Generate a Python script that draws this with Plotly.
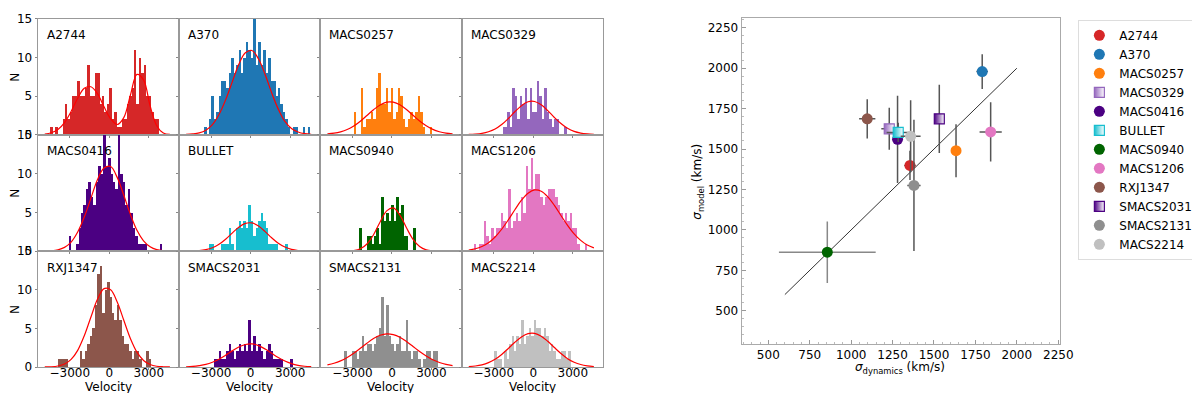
import plotly.graph_objects as go

clusters = ["A2744", "A370", "MACS0257", "MACS0329", "MACS0416", "BULLET",
            "MACS0940", "MACS1206", "RXJ1347", "SMACS2031", "SMACS2131", "MACS2214"]
colors = ["#d62728", "#1f77b4", "#ff7f0e", "#9467bd", "#4b0082", "#17becf",
          "#006400", "#e377c2", "#8c564b", "#4b0082", "#8f8f8f", "#c0c0c0"]
half_filled = ["MACS0329", "BULLET", "SMACS2031"]

# velocity histograms: first bin edge (km/s), common bin width, counts per bin
bin_start = [-4510, -3537, -2887, -2362, -3112, -3162,
             -2462, -4537, -3937, -2787, -3587, -2987]
bin_width = 187

counts_A2744 = [1, 0, 1, 0, 0, 2, 4, 2, 3, 5, 5, 7, 5, 5, 6, 9, 5, 5, 8, 8, 4, 5, 3, 4, 6,
                2, 3, 1, 1, 2, 2, 4, 5, 6, 11, 4, 10, 8, 9, 5, 5, 3, 2, 2]
counts_A370 = [1, 0, 2, 5, 2, 3, 5, 7, 7, 6, 8, 10, 8, 9, 11, 8, 10, 12, 11, 10, 15, 9,
               12, 9, 11, 8, 10, 7, 7, 5, 6, 4, 3, 2, 1, 0, 1, 1, 0, 0, 1, 0, 1]
counts_MACS0257 = [3, 0, 0, 6, 1, 2, 2, 3, 2, 6, 8, 4, 4, 6, 3, 6, 2, 3, 6, 5, 2, 1, 2, 3,
                   2, 3, 5, 3, 1, 0, 0, 1]
counts_MACS0329 = [1, 1, 3, 1, 6, 5, 2, 5, 4, 6, 2, 6, 3, 3, 7, 5, 2, 6, 3, 2, 1, 2, 2, 0, 0, 1]
counts_MACS0416 = [2, 0, 0, 1, 3, 5, 6, 8, 9, 7, 6, 9, 11, 10, 16, 11, 12, 10, 9, 8, 16, 10,
                   9, 6, 8, 5, 3, 2, 1, 1, 1, 1, 0, 0, 0, 0, 0, 1]
counts_BULLET = [1, 1, 0, 0, 0, 1, 1, 1, 3, 1, 0, 3, 4, 3, 4, 3, 6, 4, 2, 3, 4, 5, 4, 3, 1,
                 1, 1, 1, 0, 0, 0, 1]
counts_MACS0940 = [3, 0, 0, 2, 2, 1, 2, 3, 1, 7, 4, 5, 4, 6, 4, 7, 5, 6, 2, 2, 0, 0, 3]
counts_MACS1206 = [1, 0, 1, 1, 4, 2, 1, 3, 2, 3, 3, 5, 4, 3, 8, 3, 4, 5, 4, 7, 5, 11, 8, 12,
                   8, 10, 10, 7, 6, 7, 8, 8, 8, 7, 6, 5, 4, 5, 4, 5, 3, 3, 1, 0, 0, 1]
counts_RXJ1347 = [1, 1, 1, 1, 0, 0, 0, 0, 0, 2, 1, 2, 3, 4, 5, 8, 12, 13, 7, 10, 11, 9, 7, 6,
                  8, 6, 4, 3, 3, 2, 1, 2, 2, 1, 0, 0, 2, 1]
counts_SMACS2031 = [1, 1, 2, 1, 1, 2, 3, 2, 1, 2, 3, 2, 3, 2, 6, 2, 4, 2, 3, 2, 1, 2, 3, 2,
                    1, 1, 1, 1, 0, 0, 0, 1]
counts_SMACS2131 = [2, 0, 0, 2, 2, 1, 2, 4, 2, 3, 3, 2, 3, 4, 5, 9, 4, 8, 4, 3, 2, 3, 4, 2,
                    2, 6, 2, 1, 2, 2, 1, 0, 1, 2, 2, 1, 2, 2]
counts_MACS2214 = [2, 1, 1, 0, 2, 1, 3, 4, 2, 4, 3, 6, 3, 4, 5, 4, 6, 5, 5, 4, 5, 4, 2, 3, 2,
                   1, 1, 2, 2, 1, 2]

# red fitted curves, read at these velocities
curve_v = [-4900, -4400, -3900, -3400, -2900, -2400, -1900, -1400, -900, -400,
           100, 600, 1100, 1600, 2100, 2600, 3100, 3600, 4100, 4600]
fit_A2744 = [0.06, 0.23, 0.66, 1.56, 3.0, 4.7, 6.0, 6.2, 5.3, 3.6,
             2.05, 1.31, 2.2, 5.1, 7.8, 7.1, 3.7, 1.15, 0.2, 0.02]
fit_A370 = [0.02, 0.08, 0.22, 0.57, 1.3, 2.6, 4.5, 6.8, 9.1, 10.6,
            10.9, 9.8, 7.8, 5.4, 3.3, 1.7, 0.8, 0.34, 0.12, 0.04]
fit_MACS0257 = [0.08, 0.18, 0.36, 0.66, 1.12, 1.74, 2.48, 3.22, 3.84, 4.2,
                4.2, 3.86, 3.25, 2.5, 1.76, 1.14, 0.67, 0.37, 0.18, 0.08]
fit_MACS0329 = [0.02, 0.06, 0.16, 0.37, 0.72, 1.3, 2.08, 2.96, 3.75, 4.25,
                4.29, 3.86, 3.1, 2.22, 1.43, 0.81, 0.41, 0.19, 0.08, 0.03]
fit_MACS0416 = [0.015, 0.056, 0.18, 0.5, 1.18, 2.47, 4.4, 6.8, 9.2, 10.7,
                10.9, 9.5, 7.2, 4.75, 2.7, 1.35, 0.58, 0.21, 0.07, 0.02]
fit_BULLET = [0.008, 0.03, 0.08, 0.21, 0.46, 0.9, 1.55, 2.34, 3.09, 3.58,
              3.64, 3.24, 2.53, 1.73, 1.04, 0.55, 0.25, 0.1, 0.04, 0.01]
fit_MACS0940 = [0.0, 0.0, 0.003, 0.018, 0.086, 0.32, 0.94, 2.13, 3.77, 5.19,
                5.57, 4.65, 3.02, 1.53, 0.6, 0.18, 0.044, 0.008, 0.001, 0.0]
fit_MACS1206 = [0.15, 0.32, 0.62, 1.1, 1.84, 2.83, 4.03, 5.34, 6.56, 7.47,
                7.89, 7.72, 7.0, 5.9, 4.6, 3.34, 2.24, 1.4, 0.8, 0.43]
fit_RXJ1347 = [0.01, 0.035, 0.13, 0.38, 0.98, 2.16, 4.05, 6.45, 8.77, 10.16,
               10.0, 8.43, 6.06, 3.7, 1.92, 0.85, 0.32, 0.1, 0.03, 0.01]
fit_SMACS2031 = [0.03, 0.07, 0.17, 0.33, 0.61, 1.0, 1.53, 2.09, 2.6, 2.92,
                 2.99, 2.77, 2.33, 1.77, 1.22, 0.77, 0.44, 0.22, 0.1, 0.04]
fit_SMACS2131 = [0.27, 0.48, 0.79, 1.23, 1.78, 2.42, 3.08, 3.68, 4.11, 4.3,
                 4.2, 3.86, 3.31, 2.66, 2.0, 1.42, 0.93, 0.58, 0.33, 0.18]
fit_MACS2214 = [0.06, 0.13, 0.28, 0.56, 1.0, 1.63, 2.4, 3.2, 3.9, 4.33,
                4.36, 4.0, 3.33, 2.52, 1.74, 1.08, 0.62, 0.32, 0.15, 0.06]

# right panel: velocity dispersions (km/s)
sigma_dyn = [1355, 1791, 1633, 1230, 1280, 1284, 856, 1842, 1097, 1532, 1379, 1359]
sigma_dyn_err = [35, 35, 10, 48, 20, 70, 292, 67, 49, 15, 40, 60]
sigma_model = [1399, 1979, 1490, 1625, 1560, 1603, 862, 1606, 1687, 1687, 1275, 1579]
sigma_model_err = [90, 107, 164, 130, 270, 60, 190, 183, 121, 211, 406, 223]
one_to_one = [600, 2000]

all_counts = [counts_A2744, counts_A370, counts_MACS0257, counts_MACS0329,
              counts_MACS0416, counts_BULLET, counts_MACS0940, counts_MACS1206,
              counts_RXJ1347, counts_SMACS2031, counts_SMACS2131, counts_MACS2214]
all_fits = [fit_A2744, fit_A370, fit_MACS0257, fit_MACS0329, fit_MACS0416, fit_BULLET,
            fit_MACS0940, fit_MACS1206, fit_RXJ1347, fit_SMACS2031, fit_SMACS2131,
            fit_MACS2214]

W, H = 1200, 393
FONT = "DejaVu Sans"
col_px = [(30, 173), (173, 316), (316, 459), (459, 602)]
row_px = [(4, 124), (124, 245), (245, 365)]


def px_x(p):
    return p / W


def px_y(p):
    return 1 - p / H


fig = go.Figure()
layout = {}
annotations = []

for i, name in enumerate(clusters):
    r, c = divmod(i, 4)
    k = i + 1
    xa = "x" if k == 1 else f"x{k}"
    ya = "y" if k == 1 else f"y{k}"
    counts = all_counts[i]
    centers = [bin_start[i] + (j + 0.5) * bin_width for j in range(len(counts))]
    fig.add_trace(go.Bar(
        x=centers, y=counts, width=bin_width,
        marker=dict(color=colors[i], line=dict(width=0)),
        xaxis=xa, yaxis=ya, showlegend=False, hoverinfo="skip",
    ))
    fig.add_trace(go.Scatter(
        x=curve_v, y=all_fits[i], mode="lines",
        line=dict(color="red", width=1.2, shape="spline"),
        xaxis=xa, yaxis=ya, showlegend=False, hoverinfo="skip",
    ))
    layout["xaxis" if k == 1 else f"xaxis{k}"] = dict(
        domain=[px_x(col_px[c][0]), px_x(col_px[c][1])],
        anchor=ya, range=[-5440, 5290],
        tickvals=[-3000, 0, 3000], showticklabels=(r == 2),
        ticks="outside", ticklen=2, tickcolor="#888",
        ticklabelstandoff=-7,
        showline=True, mirror=True, linecolor="#999", linewidth=1,
        showgrid=False, zeroline=False,
        tickfont=dict(size=12, color="black"),
    )
    layout["yaxis" if k == 1 else f"yaxis{k}"] = dict(
        domain=[px_y(row_px[r][1]), px_y(row_px[r][0])],
        anchor=xa, range=[0, 15],
        tickvals=[0, 5, 10, 15], showticklabels=(c == 0),
        ticks="outside", ticklen=2, tickcolor="#888",
        showline=True, mirror=True, linecolor="#999", linewidth=1,
        showgrid=False, zeroline=False,
        tickfont=dict(size=12, color="black"),
    )
    annotations.append(dict(
        text=name, xref="paper", yref="paper",
        x=px_x(col_px[c][0] + 7), y=px_y(row_px[r][0] + 17),
        xanchor="left", yanchor="middle", showarrow=False,
        font=dict(size=12, color="black"),
    ))

for r in range(3):
    annotations.append(dict(
        text="N", xref="paper", yref="paper", textangle=-90,
        x=px_x(7), y=px_y((row_px[r][0] + row_px[r][1]) / 2),
        xanchor="center", yanchor="middle", showarrow=False,
        font=dict(size=12, color="black"),
    ))
for c in range(4):
    annotations.append(dict(
        text="Velocity", xref="paper", yref="paper",
        x=px_x((col_px[c][0] + col_px[c][1]) / 2), y=px_y(386),
        xanchor="center", yanchor="middle", showarrow=False,
        font=dict(size=12, color="black"),
    ))

# right panel
fig.add_trace(go.Scatter(
    x=one_to_one, y=one_to_one, mode="lines",
    line=dict(color="#333", width=1), xaxis="x13", yaxis="y13",
    showlegend=False, hoverinfo="skip",
))
for i, name in enumerate(clusters):
    ecol = "#888" if name == "MACS0940" else "#555"
    if name in half_filled:
        marker = dict(symbol="square", size=10, color=colors[i],
                      gradient=dict(type="horizontal", color="white"),
                      line=dict(color=colors[i], width=1.2))
    else:
        marker = dict(symbol="circle", size=11, color=colors[i], line=dict(width=0))
    fig.add_trace(go.Scatter(
        x=[sigma_dyn[i]], y=[sigma_model[i]], mode="markers", name=name,
        marker=marker,
        error_x=dict(type="data", array=[sigma_dyn_err[i]], color=ecol,
                     thickness=1.5, width=0),
        error_y=dict(type="data", array=[sigma_model_err[i]], color=ecol,
                     thickness=1.5, width=0),
        xaxis="x13", yaxis="y13",
    ))

scatter_axis = dict(
    ticks="inside", ticklen=4, tickcolor="#999",
    minor=dict(ticks="inside", ticklen=2, dtick=50, tickcolor="#bbb"),
    showline=True, mirror=True, linecolor="#aaa", linewidth=1,
    showgrid=False, zeroline=False,
    tick0=500, dtick=250,
    tickfont=dict(size=12, color="black"),
)
layout["xaxis13"] = dict(scatter_axis, domain=[px_x(742.3), px_x(1064)],
                         anchor="y13", range=[339, 2258])
layout["yaxis13"] = dict(scatter_axis, domain=[px_y(340.7), px_y(2.7)],
                         anchor="x13", range=[297, 2313])

annotations.append(dict(
    text="<i>σ</i><sub>dynamics</sub> (km/s)", xref="paper", yref="paper",
    x=px_x(903), y=px_y(366), xanchor="center", yanchor="middle",
    showarrow=False, font=dict(size=12, color="black"),
))
annotations.append(dict(
    text="<i>σ</i><sub>model</sub> (km/s)", xref="paper", yref="paper",
    x=px_x(698), y=px_y(173), xanchor="center", yanchor="middle", textangle=-90,
    showarrow=False, font=dict(size=12, color="black"),
))

fig.update_layout(
    **layout,
    annotations=annotations,
    width=W, height=H,
    margin=dict(l=0, r=0, t=0, b=0),
    plot_bgcolor="white", paper_bgcolor="white",
    font=dict(family=FONT, size=12, color="black"),
    bargap=0,
    legend=dict(
        x=px_x(1083), y=px_y(5), xanchor="left", yanchor="top",
        bgcolor="white", bordercolor="#ddd", borderwidth=1,
        font=dict(size=12), tracegroupgap=0,
    ),
)

fig.write_html("out.html")
